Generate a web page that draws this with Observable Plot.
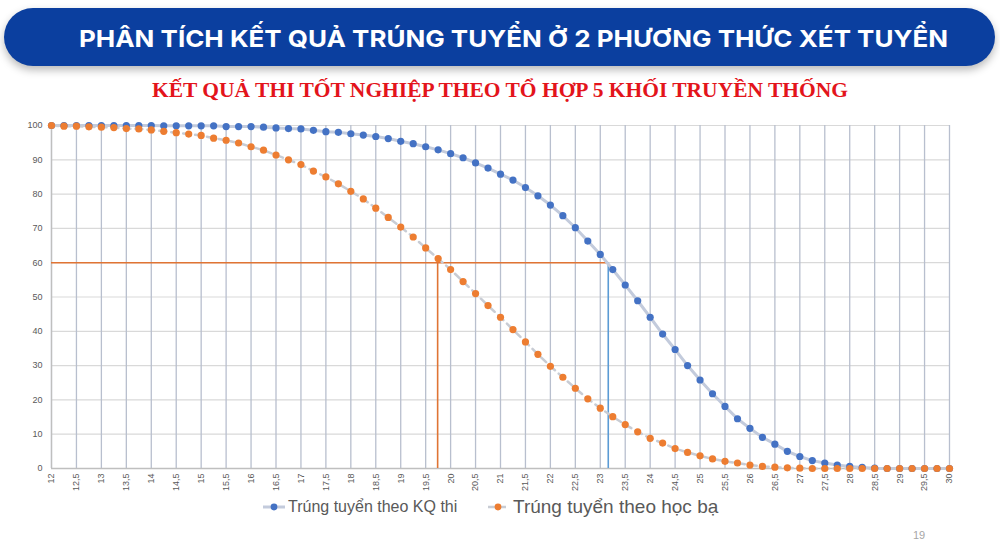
<!DOCTYPE html>
<html>
<head>
<meta charset="utf-8">
<script src="https://cdn.jsdelivr.net/npm/d3@7"></script>
<script src="https://cdn.jsdelivr.net/npm/@observablehq/plot@0.6"></script>
<style>
  html, body { margin: 0; padding: 0; background: #fff; width: 1000px; height: 549px; overflow: hidden; position: relative; font-family: "Liberation Sans", Arial, sans-serif; }
  #banner { position: absolute; left: 4px; top: 8px; width: 991px; height: 58px; border-radius: 29px; background: #0b3f9f; box-shadow: 0 4px 8px rgba(0,0,0,0.28); }
  #heads { position: absolute; left: 0; top: 0; }
  #chart { position: absolute; left: 0; top: 110px; }
  .leg { position: absolute; display: flex; align-items: center; color: #595959; white-space: nowrap; }
  #page { position: absolute; left: 913px; top: 529px; font-size: 11px; color: #a6a6a6; }
</style>
</head>
<body>
<div id="banner"></div>
<svg id="heads" width="1000" height="110">
  <text x="79" y="47" textLength="869" lengthAdjust="spacingAndGlyphs" fill="#ffffff" font-family="Inter, 'Open Sans', sans-serif" font-weight="700" font-size="23.5">PHÂN TÍCH KẾT QUẢ TRÚNG TUYỂN Ở 2 PHƯƠNG THỨC XÉT TUYỂN</text>
  <text x="152" y="97" textLength="696" lengthAdjust="spacingAndGlyphs" fill="#e3141b" font-family="'Liberation Serif', 'DejaVu Serif', serif" font-weight="700" font-size="21">KẾT QUẢ THI TỐT NGHIỆP THEO TỔ HỢP 5 KHỐI TRUYỀN THỐNG</text>
</svg>
<div id="chart"></div>
<div class="leg" style="left:263px; top:497px; font-size:16px;">
  <svg width="24" height="20"><line x1="0" y1="10" x2="22" y2="10" stroke="#c3cbdc" stroke-width="3"/><circle cx="11" cy="10" r="3.4" fill="#4472c4"/></svg>
  <span style="margin-left:1px">Trúng tuyển theo KQ thi</span>
</div>
<div class="leg" style="left:488px; top:495px; font-size:19px;">
  <svg width="22" height="24"><line x1="0" y1="12" x2="18" y2="12" stroke="#c8ccd4" stroke-width="2.5" stroke-dasharray="7,4"/><circle cx="10" cy="12" r="3.4" fill="#ed7d31"/></svg>
  <span style="margin-left:3px">Trúng tuyển theo học bạ</span>
</div>
<div id="page">19</div>
<script>
// Điểm (score thresholds), step 0.25
const scores = [12, 12.25, 12.5, 12.75, 13, 13.25, 13.5, 13.75, 14, 14.25, 14.5, 14.75,
  15, 15.25, 15.5, 15.75, 16, 16.25, 16.5, 16.75, 17, 17.25, 17.5, 17.75,
  18, 18.25, 18.5, 18.75, 19, 19.25, 19.5, 19.75, 20, 20.25, 20.5, 20.75,
  21, 21.25, 21.5, 21.75, 22, 22.25, 22.5, 22.75, 23, 23.25, 23.5, 23.75,
  24, 24.25, 24.5, 24.75, 25, 25.25, 25.5, 25.75, 26, 26.25, 26.5, 26.75,
  27, 27.25, 27.5, 27.75, 28, 28.25, 28.5, 28.75, 29, 29.25, 29.5, 29.75, 30];

// Trúng tuyển theo KQ thi (%)
const kqThi = [100, 100, 100, 100, 100, 100, 100, 100, 100, 99.9, 99.9, 99.9,
  99.9, 99.9, 99.7, 99.7, 99.7, 99.5, 99.3, 99.1, 99.0, 98.6, 98.2, 98.0,
  97.6, 97.2, 96.8, 96.2, 95.4, 94.7, 93.8, 92.9, 91.8, 90.6, 89.1, 87.6,
  85.8, 84.1, 81.9, 79.5, 76.8, 73.7, 70.2, 66.3, 62.4, 58.0, 53.5, 48.9,
  44.1, 39.2, 34.7, 30.0, 25.8, 21.8, 18.1, 14.5, 11.7, 9.1, 7.1, 5.0,
  3.5, 2.3, 1.6, 1.0, 0.6, 0.3, 0.1, 0, 0, 0, 0, 0, 0];

// Trúng tuyển theo học bạ (%)
const hocBa = [100, 99.8, 99.8, 99.6, 99.5, 99.4, 99.1, 99.0, 98.7, 98.3, 97.9, 97.5,
  97.1, 96.3, 95.7, 94.9, 93.8, 92.8, 91.4, 90.0, 88.6, 86.7, 85.0, 83.0,
  80.8, 78.6, 75.9, 73.2, 70.4, 67.5, 64.3, 61.2, 58.0, 54.5, 51.0, 47.5,
  44.1, 40.5, 36.9, 33.3, 29.8, 26.6, 23.4, 20.3, 17.6, 15.1, 12.8, 10.7,
  8.8, 7.4, 5.8, 4.7, 3.7, 2.8, 2.1, 1.6, 1.0, 0.6, 0.4, 0.2,
  0.1, 0, 0, 0, 0, 0, 0, 0, 0, 0, 0, 0, 0];

const xTicks = [12, 12.5, 13, 13.5, 14, 14.5, 15, 15.5, 16, 16.5, 17, 17.5, 18, 18.5,
  19, 19.5, 20, 20.5, 21, 21.5, 22, 22.5, 23, 23.5, 24, 24.5, 25, 25.5, 26, 26.5,
  27, 27.5, 28, 28.5, 29, 29.5, 30];
const yTicks = [0, 10, 20, 30, 40, 50, 60, 70, 80, 90, 100];

// Reference lines (60% threshold)
const refLevel = 60;
const refScoreHocBa = 19.74;
const refScoreKQ = 23.16;

const kqData = scores.map((s, i) => ({score: s, pct: kqThi[i]}));
const hbData = scores.map((s, i) => ({score: s, pct: hocBa[i]}));

const chart = Plot.plot({
  width: 1000,
  height: 385,
  marginLeft: 51,
  marginRight: 51,
  marginTop: 15,
  marginBottom: 27,
  style: {fontFamily: "'Liberation Sans', Arial, sans-serif", fontSize: "9px", color: "#595959", background: "transparent"},
  x: {domain: [12, 30], ticks: xTicks, tickFormat: d => String(d).replace(".", ","), tickRotate: -90, tickSize: 0, tickPadding: 5, label: null},
  y: {domain: [0, 100], ticks: yTicks, tickSize: 0, tickPadding: 9, label: null},
  marks: [
    Plot.gridY(yTicks, {stroke: "#d9d9d9", strokeOpacity: 1, strokeWidth: 1.2}),
    Plot.gridX(xTicks, {stroke: "#b8bfce", strokeOpacity: 1, strokeWidth: 1.3}),
    Plot.ruleY([0], {stroke: "#bfbfbf", strokeWidth: 1.3}),
    Plot.ruleX([12], {stroke: "#bfbfbf", strokeWidth: 1.3}),
    Plot.ruleY([{y: refLevel, x1: 12, x2: refScoreKQ}], {y: "y", x1: "x1", x2: "x2", stroke: "#e07434", strokeWidth: 1.6}),
    Plot.ruleX([{x: refScoreHocBa, y1: 0, y2: refLevel}], {x: "x", y1: "y1", y2: "y2", stroke: "#e07434", strokeWidth: 1.6}),
    Plot.ruleX([{x: refScoreKQ, y1: 0, y2: refLevel}], {x: "x", y1: "y1", y2: "y2", stroke: "#5b9bd5", strokeWidth: 1.6}),
    Plot.line(kqData, {x: "score", y: "pct", stroke: "#c3cbdc", strokeWidth: 3}),
    Plot.line(hbData, {x: "score", y: "pct", stroke: "#c8ccd4", strokeWidth: 2.5, strokeDasharray: "7,5"}),
    Plot.dot(kqData, {x: "score", y: "pct", r: 3.6, fill: "#4472c4"}),
    Plot.dot(hbData, {x: "score", y: "pct", r: 3.6, fill: "#ed7d31"})
  ]
});
document.getElementById("chart").appendChild(chart);
</script>
</body>
</html>
